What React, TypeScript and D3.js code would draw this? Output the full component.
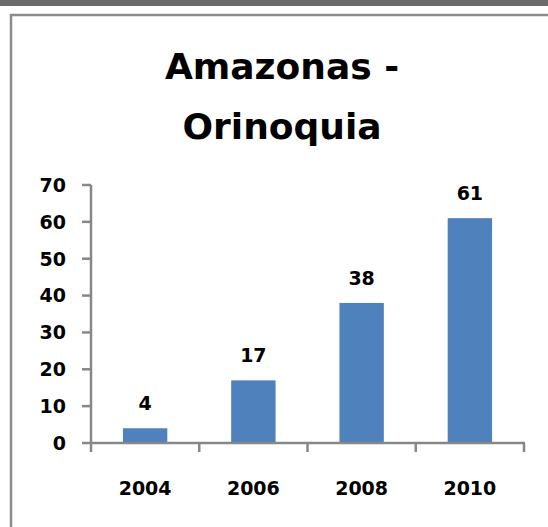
import React from "react";
import * as d3 from "d3";

const categories = ["2004", "2006", "2008", "2010"];
const values = [4, 17, 38, 61];
const yTicks = [0, 10, 20, 30, 40, 50, 60, 70];
const titleLines = ["Amazonas -", "Orinoquia"];

export default function App() {
  const W = 548;
  const H = 527;
  const left = 91;
  const right = 524;
  const y0 = 443;
  const yTop = 185;
  const x = d3.scaleBand<string>().domain(categories).range([left, right]).paddingInner(0.59).paddingOuter(0.295);
  const xb = d3.scaleBand<string>().domain(categories).range([left, right]);
  const y = d3.scaleLinear().domain([0, 70]).range([y0, yTop]);
  const axisColor = "#878787";
  const font = "'DejaVu Sans', sans-serif";
  const boundaries = [left, ...categories.map((c) => (xb(c) as number) + xb.bandwidth())];

  return (
    <svg width={W} height={H} style={{ position: "absolute", left: 0, top: 0, background: "#fff" }}>
      <rect x={0} y={0} width={W} height={6} fill="#6b6b6b" />
      <rect x={11} y={15} width={700} height={700} fill="none" stroke="#8c8c8c" strokeWidth={2.5} />
      {titleLines.map((t, i) => (
        <text key={t} x={282} y={79 + i * 60} textAnchor="middle" fontFamily={font} fontWeight="bold" fontSize={36} fill="#000">
          {t}
        </text>
      ))}
      {categories.map((c, i) => (
        <rect key={c} x={x(c)} y={y(values[i])} width={x.bandwidth()} height={y0 - y(values[i])} fill="#4f81bd" />
      ))}
      <line x1={left} x2={left} y1={yTop} y2={y0} stroke={axisColor} strokeWidth={2.5} />
      <line x1={left - 1} x2={right + 1} y1={y0} y2={y0} stroke={axisColor} strokeWidth={2.5} />
      {yTicks.map((t) => (
        <g key={t}>
          <line x1={82} x2={left} y1={y(t)} y2={y(t)} stroke={axisColor} strokeWidth={2.5} />
          <text x={66} y={y(t)} dy="0.36em" textAnchor="end" fontFamily={font} fontWeight="bold" fontSize={19} fill="#000">
            {t}
          </text>
        </g>
      ))}
      {boundaries.map((b, i) => (
        <line key={i} x1={b} x2={b} y1={y0} y2={452} stroke={axisColor} strokeWidth={2.5} />
      ))}
      {categories.map((c) => (
        <text key={c} x={(xb(c) as number) + xb.bandwidth() / 2} y={495} textAnchor="middle" fontFamily={font} fontWeight="bold" fontSize={19} fill="#000">
          {c}
        </text>
      ))}
      {categories.map((c, i) => (
        <text key={c} x={(x(c) as number) + x.bandwidth() / 2} y={y(values[i]) - 18} textAnchor="middle" fontFamily={font} fontWeight="bold" fontSize={19} fill="#000">
          {values[i]}
        </text>
      ))}
    </svg>
  );
}
